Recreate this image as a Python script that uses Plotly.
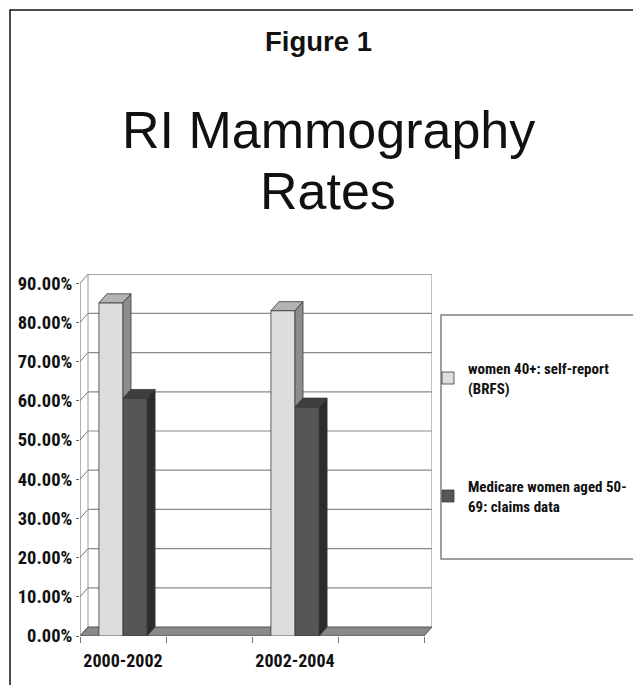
import plotly.graph_objects as go

# ---- data ----
categories = ["2000-2002", "2002-2004"]
series_names = ["women 40+: self-report<br>(BRFS)", "Medicare women aged 50-<br>69: claims data"]
self_report = [0.850, 0.830]
medicare = [0.606, 0.584]
y_ticks = [0.0, 0.1, 0.2, 0.3, 0.4, 0.5, 0.6, 0.7, 0.8, 0.9]

# ---- geometry (reference-picture pixels; page has an 8px body margin) ----
OFF = 8
W, H = 641 - OFF, 685 - OFF
PX_L, PX_R, PX_T, PX_B = 80, 432, 274, 636
UNIT_X = 86.0          # px per category slot
UNIT_Y = 392.0         # px per 100%
DX = 8 / UNIT_X        # depth offset in x units
DY = 9 / UNIT_Y        # depth offset in y units
BW = 0.28              # bar width
x0, x1 = -0.5, -0.5 + (PX_R - PX_L) / UNIT_X
y0, y1 = 0.0, (PX_B - PX_T) / UNIT_Y
n_slots = 4
x_pos = [2 * i for i in range(len(categories))]


def fx(px):
    return (px - PX_L) / (PX_R - PX_L)


def fy(py):
    return (PX_B - py) / (PX_B - PX_T)


LIGHT = dict(front="#dddddd", top="#b3b3b3", side="#8c8c8c")
DARK = dict(front="#565656", top="#3e3e3e", side="#2c2c2c")
EDGE = "#3a3a3a"
NARROW = "Roboto Condensed, Liberation Sans Narrow, Arial Narrow, Liberation Sans, sans-serif"
SANS = "Liberation Sans, Arial, sans-serif"

fig = go.Figure()

# front faces
fig.add_trace(go.Bar(x=x_pos, y=self_report, width=BW, offset=-BW, name=series_names[0],
                     legendgroup="a", marker=dict(color=LIGHT["front"], line=dict(color=EDGE, width=0.8))))
fig.add_trace(go.Bar(x=x_pos, y=medicare, width=BW, offset=0, name=series_names[1],
                     legendgroup="b", marker=dict(color=DARK["front"], line=dict(color=EDGE, width=0.8))))


def poly(xs, ys, color):
    fig.add_trace(go.Scatter(x=xs + [xs[0]], y=ys + [ys[0]], mode="lines", fill="toself",
                             fillcolor=color, line=dict(color=EDGE, width=0.8),
                             showlegend=False, hoverinfo="skip"))


for c, hl, hd in zip(x_pos, self_report, medicare):
    l0, l1 = c - BW, c
    poly([l0, l1, l1 + DX, l0 + DX], [hl, hl, hl + DY, hl + DY], LIGHT["top"])
    poly([l1, l1 + DX, l1 + DX, l1], [hd, hd + DY, hl + DY, hl], LIGHT["side"])
    d0, d1 = c, c + BW
    poly([d0, d1, d1 + DX, d0 + DX], [hd, hd, hd + DY, hd + DY], DARK["top"])
    poly([d1, d1 + DX, d1 + DX, d1], [0, DY, hd + DY, hd], DARK["side"])

shapes = []
GRID = "#8a8a8a"
bx0, bx1 = -0.5 + DX, -0.5 + n_slots + DX
for v in y_ticks[1:]:
    shapes.append(dict(type="line", xref="x", yref="y", x0=bx0, x1=bx1, y0=v + DY, y1=v + DY,
                       line=dict(color=GRID, width=1.2), layer="below"))
for v in y_ticks:
    shapes.append(dict(type="line", xref="x", yref="y", x0=-0.5, x1=bx0, y0=v, y1=v + DY,
                       line=dict(color="#777777", width=1), layer="below"))
shapes.append(dict(type="line", xref="x", yref="y", x0=bx0, x1=bx0, y0=DY, y1=y_ticks[-1] + DY,
                   line=dict(color="#9a9a9a", width=1), layer="below"))
shapes.append(dict(type="line", xref="x", yref="y", x0=bx1, x1=bx1, y0=DY, y1=y_ticks[-1] + DY,
                   line=dict(color="#9a9a9a", width=1.2), layer="below"))
shapes.append(dict(type="line", xref="x", yref="y", x0=-0.5, x1=-0.5, y0=0, y1=y_ticks[-1],
                   line=dict(color="#666666", width=1), layer="below"))
shapes.append(dict(type="path", xref="x", yref="y",
                   path=f"M{-0.5},0 L{-0.5 + n_slots},0 L{bx1},{DY} L{bx0},{DY} Z",
                   fillcolor="#8a8a8a", line=dict(color="#555555", width=1), layer="below"))
shapes.append(dict(type="rect", xref="paper", yref="paper", x0=fx(441), x1=fx(640), y0=fy(559), y1=fy(315),
                   line=dict(color="#808080", width=1.5), fillcolor="rgba(0,0,0,0)"))
shapes.append(dict(type="rect", xref="paper", yref="paper", x0=fx(10), x1=fx(700), y0=fy(700), y1=fy(10),
                   line=dict(color="#111111", width=1.5), fillcolor="rgba(0,0,0,0)"))

annotations = [
    dict(text="Figure 1", x=fx(318.5), y=fy(41.5), xref="paper", yref="paper", showarrow=False,
         font=dict(family=SANS, size=27.5, color="#111111", weight="bold"), xanchor="center", yanchor="middle"),
    dict(text="RI Mammography", x=fx(328), y=fy(130), xref="paper", yref="paper", showarrow=False,
         font=dict(family=SANS, size=52, color="#111111"), xanchor="center", yanchor="middle"),
    dict(text="Rates", x=fx(328), y=fy(190.5), xref="paper", yref="paper", showarrow=False,
         font=dict(family=SANS, size=52, color="#111111"), xanchor="center", yanchor="middle"),
]

fig.update_layout(
    width=W, height=H,
    margin=dict(l=PX_L - OFF, r=W - (PX_R - OFF), t=PX_T - OFF, b=H - (PX_B - OFF), pad=0, autoexpand=False),
    paper_bgcolor="white", plot_bgcolor="white",
    barmode="overlay",
    shapes=shapes, annotations=annotations,
    showlegend=True,
    legend=dict(x=fx(428), y=fy(352), xanchor="left", yanchor="top", traceorder="grouped",
                tracegroupgap=76, bgcolor="rgba(0,0,0,0)",
                font=dict(family=NARROW, size=15, color="#111111", weight="bold")),
    xaxis=dict(range=[x0, x1], tickvals=x_pos, ticktext=categories, ticks="", showgrid=False,
               zeroline=False, showline=False, ticklabelstandoff=12, automargin=False,
               tickfont=dict(family=NARROW, size=18, color="#111111", weight="bold"),
               minor=dict(tick0=-0.5, dtick=1, ticks="outside", ticklen=6, tickcolor="#777777", showgrid=False)),
    yaxis=dict(range=[y0, y1], tickvals=y_ticks, tickformat=".2%", ticks="outside", ticklen=3,
               tickcolor="#666666", showgrid=False, zeroline=False, showline=False, automargin=False,
               tickfont=dict(family=NARROW, size=18.5, color="#111111", weight="bold")),
)

fig.write_html("out.html")
